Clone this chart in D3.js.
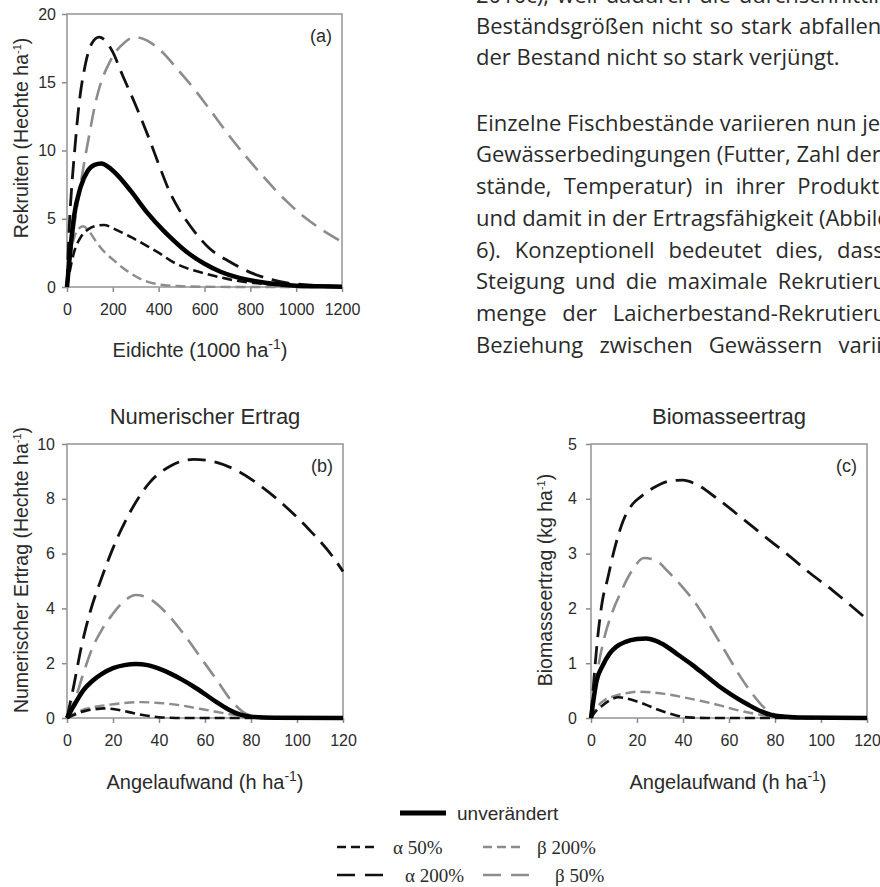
<!DOCTYPE html>
<html><head><meta charset="utf-8">
<script src="https://cdn.jsdelivr.net/npm/d3@7"></script>
<style>body{margin:0;background:#fff}svg{display:block}</style>
</head><body>
<script>
// ---------------- DATA ----------------
// Panel (a): Eidichte (1000 ha^-1) vs Rekruiten (Hechte ha^-1)
const aXTicks = [0, 200, 400, 600, 800, 1000, 1200];
const aYTicks = [0, 5, 10, 15, 20];
const aUnv  = [[0,0],[15,2.8],[30,5.1],[60,7.35],[90,8.5],[120,8.95],[150,9.05],[180,8.8],[220,8.2],[280,7.0],[350,5.45],[420,4.15],[450,3.65],[520,2.6],[600,1.7],[670,1.12],[740,0.72],[830,0.4],[920,0.2],[1000,0.1],[1100,0.05],[1200,0.02]];
const aA50  = [[0,0],[15,1.4],[30,2.5],[60,3.65],[90,4.2],[120,4.45],[160,4.54],[220,4.15],[280,3.65],[350,3.0],[420,2.3],[450,1.95],[520,1.4],[600,1.0],[670,0.7],[740,0.46],[830,0.27],[920,0.15],[1000,0.08],[1100,0.04],[1200,0.02]];
const aA200 = [[0,0],[10,4.5],[20,7.2],[35,10.3],[50,13.0],[80,16.3],[110,17.9],[140,18.3],[170,18.0],[200,17.2],[240,15.6],[300,13.3],[360,10.8],[400,9.0],[450,6.9],[490,5.65],[530,4.65],[620,2.85],[710,1.85],[810,1.0],[890,0.55],[960,0.3],[1050,0.15],[1200,0.04]];
const aB200 = [[0,0],[10,1.6],[20,2.8],[35,3.8],[50,4.25],[70,4.45],[100,4.0],[130,3.25],[170,2.45],[205,1.95],[240,1.45],[280,0.98],[320,0.6],[350,0.4],[420,0.15],[500,0.06],[600,0.02],[800,0],[1200,0]];
const aB50  = [[0,0],[20,3.0],[45,6.0],[70,8.6],[90,10.5],[130,13.9],[190,16.6],[250,17.9],[295,18.3],[350,18.05],[410,17.3],[490,15.8],[560,14.4],[610,13.3],[730,10.6],[830,8.6],[910,7.1],[960,6.25],[1030,5.2],[1090,4.45],[1200,3.3]];

// Panel (b): Angelaufwand (h ha^-1) vs Numerischer Ertrag (Hechte ha^-1)
const bcXTicks = [0, 20, 40, 60, 80, 100, 120];
const bYTicks = [0, 2, 4, 6, 8, 10];
const bUnv  = [[0,0],[3,0.45],[7,1.0],[11,1.35],[15,1.6],[20,1.82],[25,1.93],[30,1.97],[35,1.93],[40,1.8],[45,1.62],[50,1.4],[55,1.15],[60,0.87],[65,0.58],[70,0.32],[75,0.13],[80,0.05],[90,0.01],[120,0]];
const bA50  = [[0,0],[4,0.15],[8,0.26],[12,0.32],[16,0.35],[20,0.33],[25,0.25],[30,0.16],[35,0.08],[40,0.03],[45,0.01],[50,0],[120,0]];
const bA200 = [[0,0],[3,1.2],[6,2.5],[10,3.85],[15,5.1],[20,6.2],[28,7.6],[36,8.6],[45,9.2],[55,9.44],[65,9.33],[75,8.98],[85,8.42],[95,7.72],[105,6.9],[115,5.95],[120,5.35]];
const bB200 = [[0,0],[4,0.2],[8,0.33],[13,0.42],[18,0.48],[25,0.55],[32,0.58],[40,0.55],[48,0.48],[55,0.38],[62,0.27],[70,0.15],[78,0.06],[85,0.02],[95,0],[120,0]];
const bB50  = [[0,0],[4,0.8],[7,1.6],[11,2.55],[15,3.2],[19,3.7],[24,4.2],[30,4.49],[36,4.35],[43,3.85],[50,3.15],[58,2.22],[65,1.4],[72,0.58],[78,0.15],[85,0.03],[90,0],[120,0]];

// Panel (c): Angelaufwand (h ha^-1) vs Biomasseertrag (kg ha^-1)
const cYTicks = [0, 1, 2, 3, 4, 5];
const cUnv  = [[0,0],[2.5,0.69],[5,0.95],[8,1.17],[11,1.3],[15,1.39],[20,1.44],[24,1.45],[28,1.41],[33,1.3],[38,1.15],[44,0.97],[50,0.77],[56,0.57],[62,0.4],[68,0.25],[74,0.12],[80,0.04],[90,0.01],[120,0]];
const cA50  = [[0,0],[2,0.12],[5,0.23],[8,0.32],[12,0.38],[16,0.35],[20,0.3],[24,0.24],[28,0.17],[32,0.11],[36,0.06],[40,0.02],[45,0.005],[50,0],[120,0]];
const cA200 = [[0,0],[2.5,1.3],[5,2.15],[7,2.5],[10,3.05],[14,3.6],[18,3.9],[22,4.05],[28,4.22],[35,4.33],[40,4.34],[45,4.28],[55,4.0],[65,3.67],[75,3.33],[85,3.0],[95,2.65],[105,2.33],[115,1.98],[120,1.8]];
const cB200 = [[0,0],[3,0.22],[6,0.33],[10,0.4],[15,0.45],[20,0.48],[26,0.47],[32,0.44],[40,0.38],[48,0.31],[56,0.23],[64,0.14],[72,0.07],[80,0.02],[90,0],[120,0]];
const cB50  = [[0,0],[3,0.9],[6,1.5],[9,1.9],[13,2.3],[18,2.7],[23,2.92],[28,2.88],[34,2.65],[40,2.38],[45,2.12],[50,1.8],[55,1.45],[60,1.1],[65,0.75],[70,0.45],[75,0.2],[80,0.06],[85,0.01],[90,0],[120,0]];

const seriesKeys = ["b50", "b200", "a200", "a50", "unv"];
const legendLabels = {unv: "unverändert", a50: "α 50%", b200: "β 200%", a200: "α 200%", b50: "β 50%"};

const bodyLines = [
  "2010c), weil dadurch die durchschnittlichen",
  "Beständsgrößen nicht so stark abfallen und",
  "der Bestand nicht so stark verjüngt.",
  "",
  "Einzelne Fischbestände variieren nun je nach",
  "Gewässerbedingungen (Futter, Zahl der Unter-",
  "stände, Temperatur) in ihrer Produktivität",
  "und damit in der Ertragsfähigkeit (Abbildung",
  "6). Konzeptionell bedeutet dies, dass die",
  "Steigung und die maximale Rekrutierungs-",
  "menge der Laicherbestand-Rekrutierungs-",
  "Beziehung zwischen Gewässern variieren"
];
const bodyJustified = [true, true, false, false, true, true, true, true, true, true, true, true];

// ---------------- STYLES ----------------
const style = {
  unv:  {color: "#000", width: 4.5, dash: null},
  a50:  {color: "#111", width: 2.6, dash: "10,5"},
  b200: {color: "#8c8c8c", width: 2.4, dash: "10,5"},
  a200: {color: "#111", width: 2.8, dash: "18,9"},
  b50:  {color: "#8c8c8c", width: 2.6, dash: "18,9"}
};
const SANS = "'Liberation Sans', Arial, sans-serif";
const SERIF = "'Liberation Serif', 'Times New Roman', serif";
const TXT = "#2b2b2b";

const svg = d3.select("body").append("svg").attr("width", 880).attr("height", 887)
  .attr("font-family", SANS);
svg.append("rect").attr("width", 880).attr("height", 887).attr("fill", "#fff");

function labelWithSup(sel, main, sup, tail, supSize, supDy) {
  sel.append("tspan").text(main);
  sel.append("tspan").attr("font-size", supSize).attr("dy", -supDy).text(sup);
  sel.append("tspan").attr("dy", supDy).text(tail);
}

function panel(cfg) {
  const x = d3.scaleLinear().domain(cfg.xd).range([cfg.left, cfg.right]);
  const y = d3.scaleLinear().domain(cfg.yd).range([cfg.bottom, cfg.top]);
  const g = svg.append("g");

  const xa = g.append("g").attr("transform", `translate(0,${cfg.bottom})`)
    .call(d3.axisBottom(x).tickValues(cfg.xt).tickFormat(d3.format("d")).tickSize(5).tickSizeOuter(0).tickPadding(12));
  const ya = g.append("g").attr("transform", `translate(${cfg.left},0)`)
    .call(d3.axisLeft(y).tickValues(cfg.yt).tickFormat(d3.format("d")).tickSize(5).tickSizeOuter(0).tickPadding(cfg.ypad));
  [xa, ya].forEach(a => {
    a.select(".domain").remove();
    a.selectAll(".tick line").attr("stroke", "#8a8a8a").attr("stroke-width", 1.5);
    a.selectAll(".tick text").attr("font-size", 16).attr("fill", TXT).attr("font-family", SANS);
  });

  g.append("rect").attr("x", cfg.left).attr("y", cfg.top)
    .attr("width", cfg.right - cfg.left).attr("height", cfg.bottom - cfg.top)
    .attr("fill", "none").attr("stroke", "#9a9a9a").attr("stroke-width", 1.6);

  const line = d3.line().x(d => x(d[0])).y(d => y(d[1])).curve(d3.curveMonotoneX);
  seriesKeys.forEach(k => {
    const s = style[k];
    g.append("path").datum(cfg.data[k]).attr("d", line)
      .attr("fill", "none").attr("stroke", s.color).attr("stroke-width", s.width)
      .attr("stroke-dasharray", s.dash).attr("stroke-linejoin", "round");
  });

  g.append("text").attr("x", cfg.right - 10).attr("y", cfg.top + 28)
    .attr("text-anchor", "end").attr("font-size", 18).attr("fill", TXT).text(cfg.tag);

  if (cfg.title) {
    g.append("text").attr("x", (cfg.left + cfg.right) / 2).attr("y", cfg.top - 20)
      .attr("text-anchor", "middle").attr("font-size", 22).attr("fill", TXT).text(cfg.title);
  }
  const xt = g.append("text").attr("x", cfg.xtx).attr("y", cfg.xty)
    .attr("text-anchor", "middle").attr("font-size", 20).attr("fill", TXT);
  labelWithSup(xt, cfg.xlab, "-1", ")", 14, 8);

  const yt = g.append("text")
    .attr("transform", `translate(${cfg.ytx},${cfg.yty}) rotate(-90)`)
    .attr("text-anchor", "middle").attr("font-size", 19.5).attr("fill", TXT);
  labelWithSup(yt, cfg.ylab, "-1", ")", 11, 7);
}

panel({left: 67, right: 342, top: 14, bottom: 287, xd: [0, 1200], yd: [0, 20],
  xt: aXTicks, yt: aYTicks, ypad: 6, tag: "(a)", title: null,
  data: {unv: aUnv, a50: aA50, a200: aA200, b200: aB200, b50: aB50},
  xlab: "Eidichte (1000 ha", xtx: 200, xty: 357,
  ylab: "Rekruiten (Hechte ha", ytx: 28, yty: 138});

panel({left: 67, right: 343, top: 444, bottom: 718, xd: [0, 120], yd: [0, 10],
  xt: bcXTicks, yt: bYTicks, ypad: 7, tag: "(b)", title: "Numerischer Ertrag",
  data: {unv: bUnv, a50: bA50, a200: bA200, b200: bB200, b50: bB50},
  xlab: "Angelaufwand (h ha", xtx: 205, xty: 789,
  ylab: "Numerischer Ertrag (Hechte ha", ytx: 28, yty: 570});

panel({left: 591, right: 867, top: 444, bottom: 718, xd: [0, 120], yd: [0, 5],
  xt: bcXTicks, yt: cYTicks, ypad: 9, tag: "(c)", title: "Biomasseertrag",
  data: {unv: cUnv, a50: cA50, a200: cA200, b200: cB200, b50: cB50},
  xlab: "Angelaufwand (h ha", xtx: 728, xty: 789,
  ylab: "Biomasseertrag (kg ha", ytx: 552, yty: 580});

// ---------------- LEGEND ----------------
const leg = svg.append("g");
const legItems = [
  {k: "unv",  x1: 400, x2: 446, y: 813, tx: 457, font: SANS},
  {k: "a50",  x1: 337, x2: 379, y: 847, tx: 393, font: SERIF},
  {k: "b200", x1: 483, x2: 523, y: 847, tx: 537, font: SERIF},
  {k: "a200", x1: 337, x2: 384, y: 875, tx: 405, font: SERIF},
  {k: "b50",  x1: 483, x2: 531, y: 875, tx: 555, font: SERIF}
];
legItems.forEach(it => {
  const s = style[it.k];
  leg.append("line").attr("x1", it.x1).attr("x2", it.x2).attr("y1", it.y).attr("y2", it.y)
    .attr("stroke", s.color).attr("stroke-width", it.k === "unv" ? 5 : 2.6)
    .attr("stroke-dasharray", it.k === "unv" ? null : (s.dash === "10,5" ? "9,5" : "18,10"));
  leg.append("text").attr("x", it.tx).attr("y", it.y + 6.5).attr("font-family", it.font)
    .attr("font-size", 19).attr("fill", TXT).text(legendLabels[it.k]);
});

// ---------------- BODY TEXT (justified column, cropped at the right page edge) ----------------
const bodyBase = [3, 33.5, 65, null, 130.7, 162.4, 194.1, 225.8, 257.5, 289.2, 320.9, 352.6];
const colLeft = 476, colRight = 929;
const body = svg.append("g").attr("font-family", "'Open Sans', 'Noto Sans', sans-serif")
  .attr("font-size", 22).attr("fill", "#2a2a2a");
bodyLines.forEach((t, i) => {
  if (!t) return;
  const tx = body.append("text").attr("x", colLeft).attr("y", bodyBase[i]).text(t);
  if (bodyJustified[i]) {
    const w = tx.node().getComputedTextLength();
    const n = (t.match(/ /g) || []).length;
    if (n > 0) tx.attr("word-spacing", Math.max(0, (colRight - colLeft - w) / n));
  }
});
</script>
</body></html>
